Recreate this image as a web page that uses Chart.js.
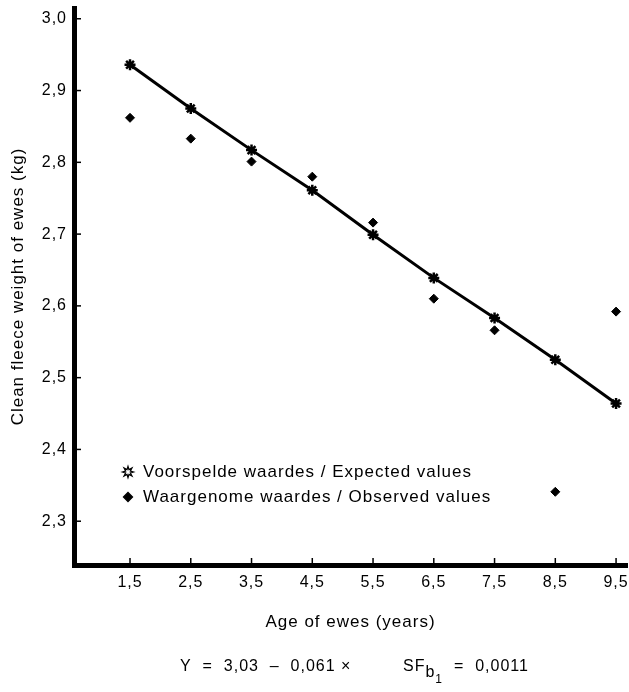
<!DOCTYPE html>
<html>
<head>
<meta charset="utf-8">
<script src="https://cdn.jsdelivr.net/npm/chart.js@4.4.1/dist/chart.umd.min.js"></script>
<style>
html,body{margin:0;padding:0;background:#fff;}
#wrap{position:relative;width:629px;height:692px;}
</style>
</head>
<body>
<div id="wrap"><canvas id="c" width="629" height="692"></canvas></div>
<script>
const ages = [1.5, 2.5, 3.5, 4.5, 5.5, 6.5, 7.5, 8.5, 9.5];
const expectedValues = [2.936, 2.875, 2.817, 2.761, 2.699, 2.639, 2.583, 2.525, 2.464];
const observedValues = [2.862, 2.833, 2.801, 2.780, 2.716, 2.610, 2.566, 2.341, 2.592];
const yTickValues = [2.3, 2.4, 2.5, 2.6, 2.7, 2.8, 2.9, 3.0];
const xTickValues = [1.5, 2.5, 3.5, 4.5, 5.5, 6.5, 7.5, 8.5, 9.5];
const legendLabels = ['Voorspelde waardes / Expected values', 'Waargenome waardes / Observed values'];
const xTitle = 'Age of ewes (years)';
const yTitle = 'Clean fleece weight of ewes (kg)';

const FONT = "'Liberation Sans', Arial, Helvetica, sans-serif";
const fmt = v => v.toFixed(1).replace('.', ',');

const spacing = {
  id: 'spacing',
  beforeLayout(chart) { chart.ctx.letterSpacing = '1px'; },
  beforeDraw(chart) { chart.ctx.letterSpacing = '1px'; }
};

const inwardTicks = {
  id: 'inwardTicks',
  afterDraw(chart) {
    const ctx = chart.ctx, xs = chart.scales.x, ys = chart.scales.y, a = chart.chartArea;
    ctx.save();
    ctx.strokeStyle = '#000';
    ctx.lineWidth = 1.5;
    ys.ticks.forEach(t => {
      const p = ys.getPixelForValue(t.value);
      ctx.beginPath(); ctx.moveTo(a.left, p); ctx.lineTo(a.left + 7, p); ctx.stroke();
    });
    xs.ticks.forEach(t => {
      const p = xs.getPixelForValue(t.value);
      ctx.beginPath(); ctx.moveTo(p, a.bottom); ctx.lineTo(p, a.bottom - 7); ctx.stroke();
    });
    ctx.restore();
  }
};

function outlineStar(ctx, cx, cy, r1, r2, n) {
  ctx.beginPath();
  for (let i = 0; i < n * 2; i++) {
    const r = i % 2 === 0 ? r1 : r2;
    const ang = -Math.PI / 2 + i * Math.PI / n;
    const px = cx + r * Math.cos(ang), py = cy + r * Math.sin(ang);
    if (i === 0) ctx.moveTo(px, py); else ctx.lineTo(px, py);
  }
  ctx.closePath();
  ctx.lineWidth = 1.3;
  ctx.strokeStyle = '#000';
  ctx.stroke();
}

const extras = {
  id: 'extras',
  afterDraw(chart) {
    const ctx = chart.ctx, a = chart.chartArea;
    const ds = chart.data.datasets;
    ctx.save();
    ctx.letterSpacing = '1px';
    ctx.fillStyle = '#000';
    ctx.textBaseline = 'middle';
    ctx.font = '17px ' + FONT;
    // legend
    const lx = a.left + 54;
    const rows = [472, 497];
    outlineStar(ctx, lx, rows[0], 5.5, 2.6, 8);
    Chart.helpers.drawPoint(ctx, {pointStyle: ds[1].pointStyle, radius: 4.5, borderWidth: 1, rotation: 0}, lx, rows[1]);
    ctx.fillStyle = '#000';
    ctx.fillText(legendLabels[0], lx + 15, rows[0]);
    ctx.fillText(legendLabels[1], lx + 15, rows[1]);
    // formula
    ctx.textBaseline = 'alphabetic';
    ctx.font = '16px ' + FONT;
    const base = 671;
    ctx.fillText('Y  =  3,03  \u2013  0,061 \u00d7', 180, base);
    let x = 403;
    ctx.fillText('SF', x, base); x += ctx.measureText('SF').width;
    ctx.font = '16px ' + FONT;
    ctx.fillText('b', x, base + 6); x += ctx.measureText('b').width;
    ctx.font = '12px ' + FONT;
    ctx.fillText('1', x, base + 12); x += ctx.measureText('1').width;
    ctx.font = '16px ' + FONT;
    ctx.fillText('  =  0,0011', x, base);
    ctx.restore();
  }
};

new Chart(document.getElementById('c'), {
  type: 'scatter',
  data: {
    datasets: [
      {
        label: legendLabels[0],
        type: 'line',
        data: ages.map((a, i) => ({x: a, y: expectedValues[i]})),
        showLine: true,
        borderColor: '#000',
        borderWidth: 3,
        pointStyle: 'star',
        pointRadius: 5.5,
        pointBorderWidth: 2.5,
        pointBorderColor: '#000',
        pointBackgroundColor: '#000',
        tension: 0,
        fill: false
      },
      {
        label: legendLabels[1],
        data: ages.map((a, i) => ({x: a, y: observedValues[i]})),
        pointStyle: 'rectRot',
        pointRadius: 4.5,
        pointBorderWidth: 1,
        pointBorderColor: '#000',
        pointBackgroundColor: '#000'
      }
    ]
  },
  options: {
    responsive: false,
    animation: false,
    layout: {autoPadding: false, padding: {top: 8, right: 2, left: 0, bottom: 0}},
    plugins: {legend: {display: false}, tooltip: {enabled: false}},
    scales: {
      x: {
        type: 'linear',
        min: 0.578, max: 9.68,
        afterBuildTicks: s => { s.ticks = xTickValues.map(v => ({value: v})); },
        afterFit: s => { s.height = 127; s.paddingRight = 0; s.paddingLeft = 0; },
        ticks: {color: '#000', padding: 8, font: {family: FONT, size: 16}, callback: v => fmt(v), maxRotation: 0, autoSkip: false},
        grid: {drawOnChartArea: false, drawTicks: false},
        border: {display: true, color: '#000', width: 5},
        title: {display: true, text: xTitle, color: '#000', font: {family: FONT, size: 17}, padding: {top: 0, bottom: 59}}
      },
      y: {
        type: 'linear',
        min: 2.239, max: 3.015,
        afterBuildTicks: s => { s.ticks = yTickValues.map(v => ({value: v})); },
        afterFit: s => { s.width = 74; s.paddingTop = 0; s.paddingBottom = 0; },
        ticks: {color: '#000', padding: 7, font: {family: FONT, size: 16}, callback: v => fmt(v), autoSkip: false},
        grid: {drawOnChartArea: false, drawTicks: false},
        border: {display: true, color: '#000', width: 5},
        title: {display: true, text: yTitle, color: '#000', font: {family: FONT, size: 17}, padding: {top: 8, bottom: 0}}
      }
    }
  },
  plugins: [spacing, inwardTicks, extras]
});
</script>
</body>
</html>
